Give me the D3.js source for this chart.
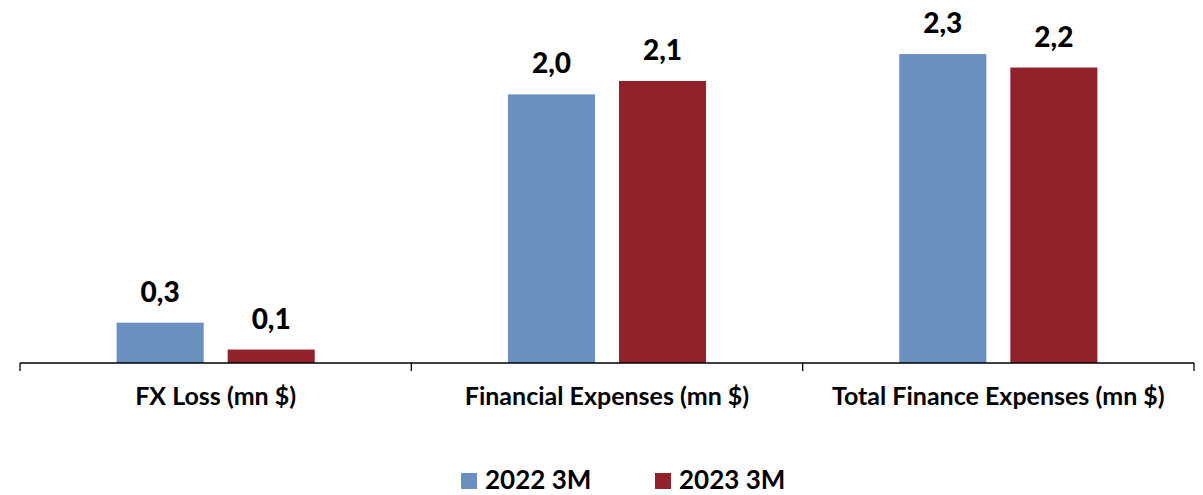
<!DOCTYPE html>
<html>
<head>
<meta charset="utf-8">
<script src="https://cdn.jsdelivr.net/npm/d3@7"></script>
<style>
  html, body { margin: 0; padding: 0; background: #ffffff; }
  svg { display: block; font-family: Lato, "Open Sans", sans-serif; font-weight: 700; }
</style>
</head>
<body>
<svg id="chart" width="1203" height="495"></svg>
<script>
// Finance expense breakdown, first three months of each year (mn $)
const categories = ["FX Loss (mn $)", "Financial Expenses (mn $)", "Total Finance Expenses (mn $)"];
const seriesNames = ["2022 3M", "2023 3M"];
const values2022 = [0.3, 2.0, 2.3];
const values2023 = [0.1, 2.1, 2.2];
const seriesColors = ["#6990BE", "#93212B"];

const values = [values2022, values2023];
const svg = d3.select("#chart");

const baseY = 363;
const x0 = d3.scaleBand().domain(categories).range([20, 1194]).padding(0);
const x1 = d3.scaleBand().domain(seriesNames).range([0, x0.bandwidth()])
  .paddingInner(0.216).paddingOuter(0.87);
const y = d3.scaleLinear().domain([0, 2.5]).range([baseY, baseY - 2.5 * 134.3]);

const fmt = v => d3.format(".1f")(v).replace(".", ",");

// bars and value labels
categories.forEach((cat, ci) => {
  const g = svg.append("g").attr("transform", `translate(${x0(cat)},0)`);
  seriesNames.forEach((s, si) => {
    const v = values[si][ci];
    g.append("rect")
      .attr("x", x1(s))
      .attr("y", y(v))
      .attr("width", x1.bandwidth())
      .attr("height", baseY - y(v))
      .attr("fill", seriesColors[si]);
    g.append("text")
      .attr("x", x1(s) + x1.bandwidth() / 2)
      .attr("y", y(v) - 21)
      .attr("text-anchor", "middle")
      .attr("font-size", 28)
      .attr("font-weight", 900)
      .attr("fill", "#000")
      .text(fmt(v));
  });
});

// category axis: baseline with ticks at the category boundaries
const axis = svg.append("g").attr("stroke", "#000").attr("stroke-width", 1.3);
const [r0, r1] = x0.range();
axis.append("line").attr("x1", r0).attr("x2", r1).attr("y1", baseY).attr("y2", baseY);
const bounds = categories.map(c => x0(c)).concat([r1]);
axis.selectAll("line.tick").data(bounds).join("line")
  .attr("class", "tick")
  .attr("x1", d => d).attr("x2", d => d)
  .attr("y1", baseY).attr("y2", baseY + 8);

svg.append("g").selectAll("text").data(categories).join("text")
  .attr("x", d => x0(d) + x0.bandwidth() / 2)
  .attr("y", 405)
  .attr("text-anchor", "middle")
  .attr("font-size", 25)
  .attr("fill", "#000")
  .text(d => d);

// legend
const legendX = [461, 655];
const lg = svg.append("g");
seriesNames.forEach((s, i) => {
  lg.append("rect").attr("x", legendX[i]).attr("y", 473).attr("width", 16).attr("height", 16)
    .attr("fill", seriesColors[i]);
  lg.append("text").attr("x", legendX[i] + 24).attr("y", 489)
    .attr("font-size", 26).attr("fill", "#000").text(s);
});
</script>
</body>
</html>
